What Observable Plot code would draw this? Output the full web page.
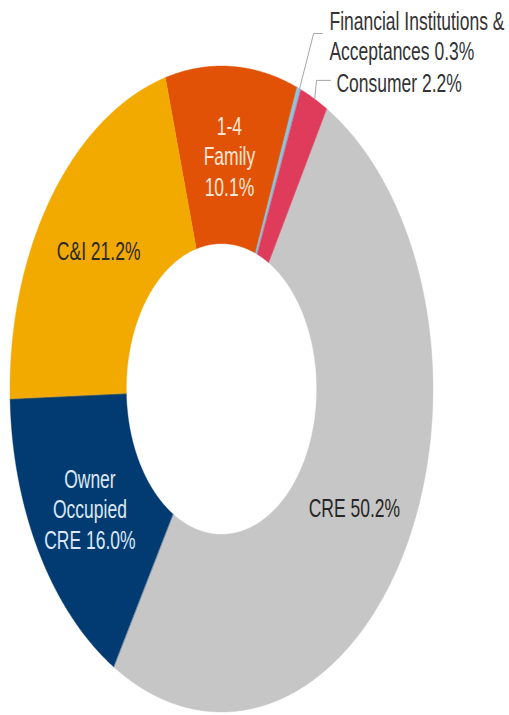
<!DOCTYPE html>
<html><head><meta charset="utf-8">
<script src="https://cdn.jsdelivr.net/npm/d3@7"></script>
<script src="https://cdn.jsdelivr.net/npm/@observablehq/plot@0.6"></script>
<style>html,body{margin:0;padding:0;background:#fff;overflow:hidden}</style>
</head><body><div id="chart"></div>
<script>
// ---- data ----
const categories = ["1-4 Family", "Financial Institutions & Acceptances", "Consumer", "CRE", "Owner Occupied CRE", "C&I"];
const shares = [10.1, 0.3, 2.2, 50.2, 16.0, 21.2];
const labelPrefixes = ["1-4\nFamily\n", "Financial Institutions &\nAcceptances ", "Consumer ", "CRE ", "Owner\nOccupied\nCRE ", "C&I "];
const outsideCategories = ["Financial Institutions & Acceptances", "Consumer"];

// ---- style / layout ----
const sliceColors = ["#E15206", "#8CC3DD", "#DF3B5B", "#C6C6C6", "#023B71", "#F2A900"];
const labelColors = ["#FCE6D6", "#333333", "#333333", "#262626", "#DCE8F4", "#2A2A2A"];
const START_DEG = -15.4;
const INNER = 0.45;
const LABEL_R = 0.725;
const outsideLayout = {
  "Financial Institutions & Acceptances": {elbow: [0.433, 1.102], end: [0.475, 1.102], text: [0.508, 1.096]},
  "Consumer": {elbow: [0.447, 0.957], end: [0.513, 0.957], text: [0.541, 0.950]}
};
const FONT = 17.5;

const total = d3.sum(shares);
let acc = START_DEG;
const slices = categories.map((c, i) => {
  const a0 = acc, a1 = acc + shares[i] / total * 360; acc = a1;
  return {c, i, a0, a1, mid: (a0 + a1) / 2, label: labelPrefixes[i] + shares[i].toFixed(1) + "%"};
});
const rad = d => d * Math.PI / 180;
const ringPts = slices.flatMap(s => {
  const n = Math.max(3, Math.ceil((s.a1 - s.a0) / 0.25) + 1);
  return d3.range(n).map(k => {
    const a = rad(s.a0 + (s.a1 - s.a0) * k / (n - 1));
    return {c: s.c, x1: Math.sin(a), y1: Math.cos(a), x2: INNER * Math.sin(a), y2: INNER * Math.cos(a)};
  });
});

const leaderPts = slices.filter(s => outsideCategories.includes(s.c)).flatMap(s => {
  const L = outsideLayout[s.c];
  return [
    {c: s.c, x: Math.sin(rad(s.mid)), y: Math.cos(rad(s.mid))},
    {c: s.c, x: L.elbow[0], y: L.elbow[1]},
    {c: s.c, x: L.end[0], y: L.end[1]}
  ];
});

const textMarks = slices.map(s => {
  const out = outsideCategories.includes(s.c);
  const pos = out ? {x: outsideLayout[s.c].text[0], y: outsideLayout[s.c].text[1]}
                  : {x: LABEL_R * Math.sin(rad(s.mid)), y: LABEL_R * Math.cos(rad(s.mid))};
  return Plot.text([{...pos, label: s.label}], {
    x: "x", y: "y", text: "label",
    fill: labelColors[s.i],
    fontSize: FONT,
    lineHeight: 1.16,
    textAnchor: out ? "start" : "middle",
    lineAnchor: "middle"
  });
});

const chart = Plot.plot({
  width: 509, height: 715,
  margin: 0,
  style: {fontFamily: "'Liberation Sans', Arial, sans-serif", background: "#fff"},
  x: {domain: [-1, 1], range: [10, 433], axis: null},
  y: {domain: [-1, 1], range: [712, 66], axis: null},
  color: {domain: categories, range: sliceColors},
  marks: [
    Plot.area(ringPts, {x1: "x1", y1: "y1", x2: "x2", y2: "y2", z: "c", fill: "c", stroke: "c", strokeWidth: 0.4, curve: "linear"}),
    Plot.line(leaderPts, {x: "x", y: "y", z: "c", stroke: "#A6A6A6", strokeWidth: 1, curve: "linear"}),
    ...textMarks
  ]
});
chart.querySelectorAll('g[aria-label="text"] text').forEach(t => {
  t.setAttribute("transform", (t.getAttribute("transform") || "") + " scale(1,1.5)");
});
document.getElementById("chart").appendChild(chart);
</script>
</body></html>
